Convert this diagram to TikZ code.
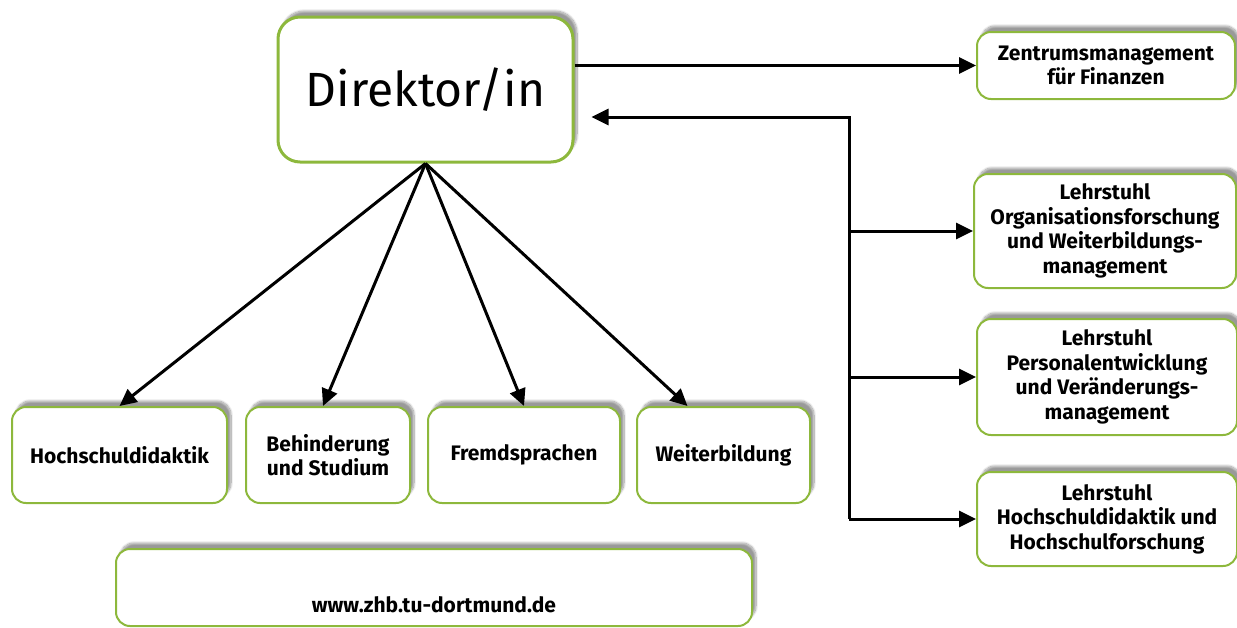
\documentclass[tikz,border=0pt]{standalone}
\usepackage{fontspec}
\setmainfont{Fira Sans}
\usetikzlibrary{arrows.meta,shadows.blur}
\definecolor{zhbgreen}{HTML}{8DB83C}

\begin{document}
\begin{tikzpicture}[x=1pt, y=-1pt,
box/.style={rectangle, rounded corners=14pt, draw=zhbgreen, line width=2pt, fill=white, align=center,
  font=\fontsize{21}{24.5}\selectfont\bfseries,
  blur shadow={shadow xshift=4pt, shadow yshift=6pt, shadow blur steps=10, shadow opacity=40}},
arrow/.style={-{Triangle[length=17pt, width=16pt]}, line width=3pt}
]
\useasboundingbox (0,0) rectangle (1237,627);
%Nodes
\node[box, minimum width=295pt, minimum height=145pt, rounded corners=22pt, line width=3pt,
      font=\fontsize{48}{52}\selectfont]               (dir)  at (425.5,89.5) {Direktor/in};
\node[box, minimum width=258pt, minimum height=67pt]   (zfin) at (1106,65.5)  {Zentrumsmanagement\\für Finanzen};
\node[box, minimum width=262pt, minimum height=114pt]  (l1)   at (1105,231)   {Lehrstuhl\\Organisationsforschung\\und Weiterbildungs-\\management};
\node[box, minimum width=260pt, minimum height=116pt]  (l2)   at (1107,377)   {Lehrstuhl\\Personalentwicklung\\und Veränderungs-\\management};
\node[box, minimum width=260pt, minimum height=94pt]   (l3)   at (1107,519)   {Lehrstuhl\\Hochschuldidaktik und\\Hochschulforschung};
\node[box, minimum width=215pt, minimum height=96pt]   (hd)   at (119.5,455)  {Hochschuldidaktik};
\node[box, minimum width=164pt, minimum height=96pt]   (bs)   at (328,455)    {Behinderung\\und Studium};
\node[box, minimum width=192pt, minimum height=96pt]   (fs)   at (524,455)    {Fremdsprachen};
\node[box, minimum width=173pt, minimum height=96pt]   (wb)   at (723.5,455)  {Weiterbildung};
\node[box, minimum width=636pt, inner ysep=0pt, text height=63pt, text depth=14pt,
      font=\fontsize{21}{24}\selectfont\bfseries]      (url)  at (434,587.5)  {www.zhb.tu-dortmund.de};
\coordinate (bus) at (849,117);
%Lines
\draw[arrow] (dir.east |- zfin) -- (zfin);
\draw[arrow] (bus |- l3.west) -- (bus) -- ([xshift=17pt]dir.east |- bus);
\draw[arrow] (bus |- l1.west) -- (l1.west);
\draw[arrow] (bus |- l2.west) -- (l2.west);
\draw[arrow] (bus |- l3.west) -- (l3.west);
\draw[arrow] (dir.south) -- (hd.north);
\draw[arrow] (dir.south) -- ([xshift=-5pt]bs.north);
\draw[arrow] (dir.south) -- (fs.north);
\draw[arrow] (dir.south) -- ([xshift=-36pt]wb.north);
\end{tikzpicture}
\end{document}
